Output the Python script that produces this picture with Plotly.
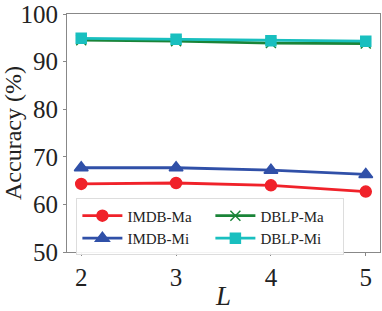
import plotly.graph_objects as go

L = [2, 3, 4, 5]
imdb_ma = [64.3, 64.5, 64.0, 62.7]
imdb_mi = [67.7, 67.7, 67.2, 66.3]
dblp_ma = [94.5, 94.3, 93.9, 93.8]
dblp_mi = [94.9, 94.7, 94.4, 94.3]
yticks = [50, 60, 70, 80, 90, 100]

series = [
    ("IMDB-Ma", imdb_ma, "#f0222a", "circle", 11),
    ("DBLP-Ma", dblp_ma, "#1a8438", "x-thin-open", 10),
    ("IMDB-Mi", imdb_mi, "#3050a8", "triangle-up", 12),
    ("DBLP-Mi", dblp_mi, "#19bfbf", "square", 10),
]

fig = go.Figure()
for name, vals, color, sym, size in series:
    fig.add_trace(go.Scatter(
        x=L, y=vals, name=name, mode="lines+markers",
        line=dict(color=color, width=2.8),
        marker=dict(color=color, symbol=sym, size=size,
                    line=dict(color=color, width=1.5)),
    ))

font = "Liberation Serif"
fig.update_layout(
    width=382, height=311,
    margin=dict(l=67, r=1, t=8, b=54),
    paper_bgcolor="white", plot_bgcolor="white",
    font=dict(family=font, color="#222"),
    showlegend=True,
    legend=dict(
        orientation="h", x=0.03, y=0.225, xanchor="left", yanchor="top",
        font=dict(family=font, size=15, color="#222"),
        bgcolor="rgba(255,255,255,0.9)", bordercolor="#dddddd", borderwidth=1,
        itemwidth=40, entrywidth=78, entrywidthmode="pixels",
        tracegroupgap=0,
    ),
    xaxis=dict(
        range=[1.85, 5.15], tickvals=L, ticktext=[str(v) for v in L],
        showline=True, mirror=True, linecolor="#888", linewidth=1,
        ticks="outside", ticklen=3, tickcolor="#888",
        showgrid=False, zeroline=False, ticklabeloverflow="allow",
        tickfont=dict(family=font, size=25, color="#222"),
        title=dict(text="<i>L</i>", font=dict(family=font, size=27, color="#222"), standoff=0),
    ),
    yaxis=dict(
        range=[50, 100], tickvals=yticks, ticktext=[str(v) for v in yticks],
        showline=True, mirror=True, linecolor="#888", linewidth=1,
        ticks="outside", ticklen=3, tickcolor="#888",
        showgrid=False, zeroline=False, ticklabeloverflow="allow",
        tickfont=dict(family=font, size=25, color="#222"),
        title=dict(text="Accuracy (%)", font=dict(family=font, size=24, color="#222"), standoff=3),
    ),
)

fig.write_html("out.html", config={"displayModeBar": False},
               post_script="document.body.style.margin='0';document.body.style.overflow='hidden';")
